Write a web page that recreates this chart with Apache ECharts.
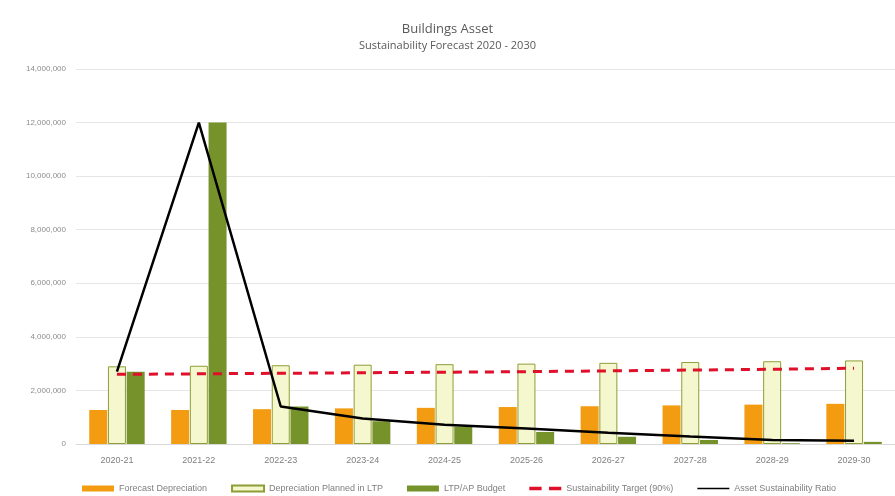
<!DOCTYPE html>
<html><head><meta charset="utf-8">
<script src="https://cdn.jsdelivr.net/npm/echarts@6/dist/echarts.min.js"></script>
<style>html,body{margin:0;padding:0;background:#fff}#c{width:895px;height:496px}</style>
</head><body><div id="c"></div>
<script>
const categories = ['2020-21','2021-22','2022-23','2023-24','2024-25','2025-26','2026-27','2027-28','2028-29','2029-30'];
const forecastDepreciation = [1270000,1270000,1300000,1330000,1350000,1380000,1410000,1440000,1470000,1500000];
const depreciationPlanned = [2900000,2920000,2940000,2960000,2980000,3000000,3030000,3060000,3090000,3120000];
const ltpBudget = [2700000,12000000,1400000,850000,650000,450000,270000,150000,30000,80000];
const sustainabilityTarget = [2600000,2620000,2640000,2660000,2680000,2700000,2730000,2760000,2790000,2830000];
const sustainabilityRatio = [2700000,12000000,1400000,950000,720000,580000,420000,280000,150000,120000];
const yTicks = {min:0, max:14000000, interval:2000000};

const chart = echarts.init(document.getElementById('c'));
const fontFam = '"Liberation Sans","Open Sans",sans-serif';
chart.setOption({
  animation:false,
  backgroundColor:'#fff',
  title:{
    text:'Buildings Asset', subtext:'Sustainability Forecast 2020 - 2030',
    left:'center', top:18, itemGap:4,
    textStyle:{fontSize:13, fontWeight:'normal', color:'#595959', fontFamily:'"Open Sans",sans-serif'},
    subtextStyle:{fontSize:11, color:'#595959', fontFamily:'"Open Sans",sans-serif'}
  },
  grid:{left:76, right:0, top:69, bottom:52},
  legend:{
    top:479, left:77, width:840, itemWidth:32, itemHeight:6, itemGap:24,
    textStyle:{fontSize:9, color:'#7f7f7f', fontFamily:fontFam},
    data:[
      {name:'Forecast Depreciation', icon:'rect'},
      {name:'Depreciation Planned in LTP', icon:'rect'},
      {name:'LTP/AP Budget', icon:'rect'},
      {name:'Sustainability Target (90%)', icon:'path://M0,0H10V3H0Z M16,0H26V3H16Z'},
      {name:'Asset Sustainability Ratio', icon:'path://M0,0H48V2.5H0Z'}
    ]
  },
  xAxis:{
    type:'category', data:categories,
    axisLine:{lineStyle:{color:'#d9d9d9'}}, axisTick:{show:false},
    axisLabel:{fontSize:9, color:'#7f7f7f', margin:12, fontFamily:fontFam}
  },
  yAxis:{
    type:'value', min:yTicks.min, max:yTicks.max, interval:yTicks.interval,
    axisLine:{show:false}, axisTick:{show:false},
    splitLine:{lineStyle:{color:'#e6e6e6'}},
    axisLabel:{fontSize:8, color:'#8c8c8c', margin:10, fontFamily:fontFam,
      formatter:v=>v.toLocaleString('en-US')}
  },
  series:[
    {name:'Forecast Depreciation', type:'bar', data:forecastDepreciation,
     barWidth:18, barGap:'0%', barCategoryGap:'34%',
     itemStyle:{color:'#f39c12'}},
    {name:'Depreciation Planned in LTP', type:'bar', data:depreciationPlanned,
     barWidth:18, barGap:'4%',
     itemStyle:{color:'#f5f7cf', borderColor:'#8e9e35', borderWidth:1}},
    {name:'LTP/AP Budget', type:'bar', data:ltpBudget,
     barWidth:18, barGap:'4%',
     itemStyle:{color:'#76922b'}},
    {name:'Sustainability Target (90%)', type:'line', data:sustainabilityTarget,
     symbol:'none', z:5,
     lineStyle:{color:'#e0102a', width:3, type:[9,7]}, itemStyle:{color:'#e0102a'}},
    {name:'Asset Sustainability Ratio', type:'line', data:sustainabilityRatio,
     symbol:'none', z:6,
     lineStyle:{color:'#000', width:2.5}, itemStyle:{color:'#000'}}
  ]
});
</script></body></html>
